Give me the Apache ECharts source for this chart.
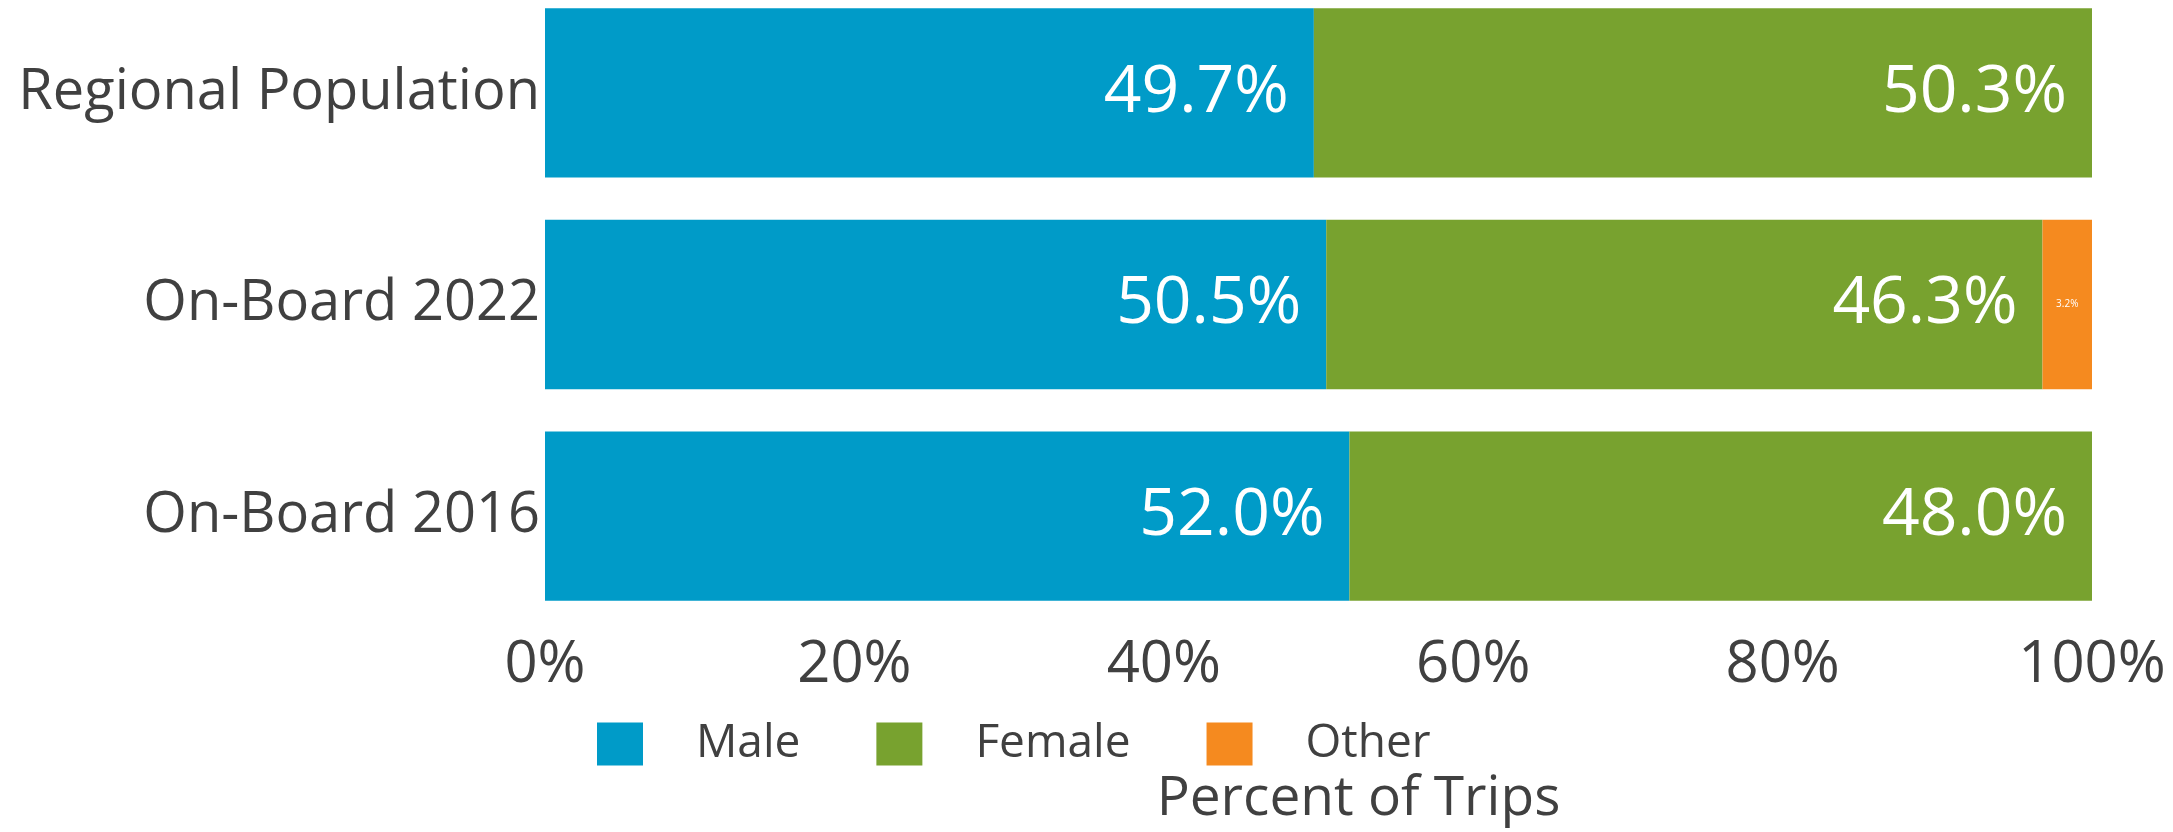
<!DOCTYPE html>
<html>
<head>
<meta charset="utf-8">
<script src="https://cdn.jsdelivr.net/npm/echarts@6/dist/echarts.min.js"></script>
<style>
html,body{margin:0;padding:0;background:#fff;overflow:hidden}
/* chart sits 13px above the page top so the first band can start above y=0 */
#chart{position:absolute;left:0;top:-13px;width:2173px;height:845px}
</style>
</head>
<body>
<div id="chart"></div>
<script>
// share of trips by gender
var groups = ['On-Board 2016', 'On-Board 2022', 'Regional Population']
var male = [52.0, 50.5, 49.7]
var female = [48.0, 46.3, 50.3]
var other = [0, 3.2, 0]

var myChart = echarts.init(document.getElementById('chart'))
var pct = function (p) { return p.value ? p.value.toFixed(1) + '%' : '' }

var option = {
  textStyle: { fontFamily: 'Open Sans' },
  animation: false,
  grid: { left: 545, right: 81, top: 0, bottom: 208 },
  legend: {
    data: ['Male', 'Female', 'Other'],
    left: 597,
    top: 734,
    padding: 0,
    icon: 'rect',
    itemWidth: 46,
    itemHeight: 43,
    itemGap: 76,
    textStyle: { fontSize: 46, color: '#404040', padding: [0, 0, 0, 48] }
  },
  xAxis: {
    type: 'value',
    min: 0,
    max: 100,
    interval: 20,
    name: 'Percent of Trips',
    nameLocation: 'middle',
    nameGap: 150,
    nameTextStyle: { fontSize: 55, color: '#404040', padding: [0, 0, 0, 80] },
    axisLine: { show: false },
    axisTick: { show: false },
    splitLine: { show: false },
    axisLabel: { formatter: '{value}%', fontSize: 58, color: '#404040', margin: 14 }
  },
  yAxis: {
    type: 'category',
    data: groups,
    axisLine: { show: false },
    axisTick: { show: false },
    axisLabel: { fontSize: 56, color: '#404040', margin: 5 }
  },
  series: [
    {
      name: 'Male', type: 'bar', stack: 'all', barCategoryGap: '20%',
      data: male,
      itemStyle: { color: '#009BC8' },
      label: { show: true, position: 'insideRight', distance: 25, fontSize: 66, color: '#fff', formatter: pct }
    },
    {
      name: 'Female', type: 'bar', stack: 'all',
      data: female,
      itemStyle: { color: '#78A22F' },
      label: { show: true, position: 'insideRight', distance: 25, fontSize: 66, color: '#fff', formatter: pct }
    },
    {
      name: 'Other', type: 'bar', stack: 'all',
      data: other,
      itemStyle: { color: '#F58A1F' },
      label: { show: true, position: 'inside', fontSize: 10, color: '#fff', formatter: pct }
    }
  ]
}

myChart.setOption(option)
</script>
</body>
</html>
